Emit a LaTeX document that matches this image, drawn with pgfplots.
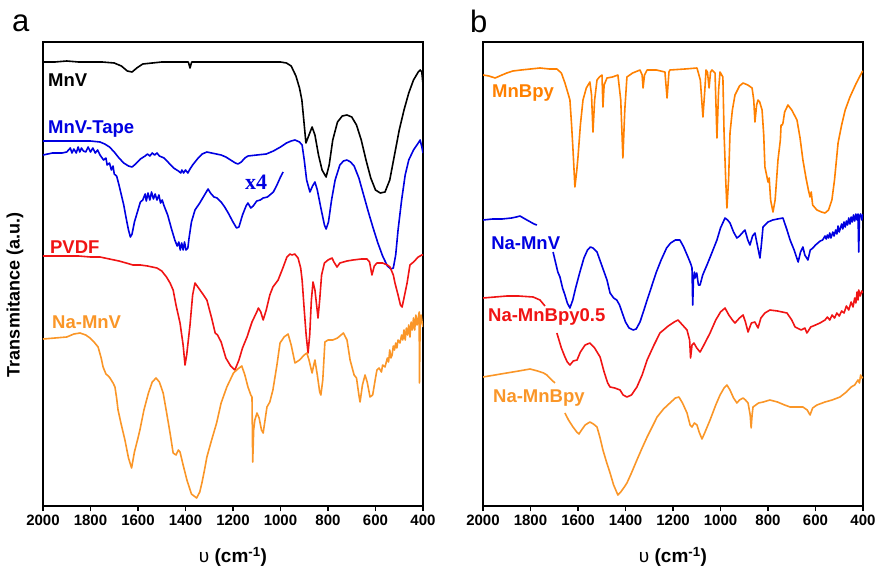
\documentclass[border=0pt]{standalone}
\usepackage{pgfplots}
\pgfplotsset{compat=1.18}
\usepackage{fontspec}
\setmainfont{Liberation Sans}
\newfontfamily\timesf{Liberation Serif}

\definecolor{cblue}{RGB}{0,0,225}
\definecolor{cred}{RGB}{240,20,20}
\definecolor{corange}{RGB}{250,150,40}
\definecolor{cdorange}{RGB}{255,128,0}

\pgfplotsset{
  ftir/.style={
    scale only axis,
    width=380pt, height=464pt,
    anchor=south west,
    x dir=reverse, xmin=400, xmax=2000,
    y dir=reverse, ymin=42, ymax=506,
    ytick=\empty,
    xtick={400,600,...,2000},
    xtick pos=bottom,
    tick align=outside,
    major tick length=5pt,
    axis line style={line width=1.4pt},
    tick style={black, line width=1.3pt},
    /pgf/number format/assume math mode=true,
    /pgf/number format/1000 sep={},
    xticklabel style={font=\fontsize{15}{15}\selectfont\bfseries},
    every axis plot/.append style={line width=1.6pt, mark=none, line join=round},
  },
}
\tikzset{lab/.style={font=\fontsize{18.5}{18.5}\selectfont\bfseries, anchor=west, inner sep=0pt}}

\begin{document}
\begin{tikzpicture}
\useasboundingbox (0pt,0pt) rectangle (880pt,570pt);

% ---------------- panel a ----------------
\begin{axis}[ftir, at={(43pt,64pt)}]
% MnV
\addplot[black] coordinates {
(2000,62)(1950,62)(1900,61)(1850,62)(1800,62)(1750,62)(1700,63)(1670,66)(1645,71)(1625,72)(1605,68)(1580,64)
(1540,63)(1500,62)(1450,62)(1400,62)(1388,62)(1381,68)(1374,62)(1350,62)(1300,62)(1250,62)(1200,62)(1150,62)
(1100,62)(1050,62)(1000,62)(975,63)(955,66)(935,76)(920,88)(910,100)(900,125)(893,143)(880,135)(867,127)
(855,135)(840,155)(825,170)(808,177)(795,165)(780,140)(760,122)(740,116)(720,115)(700,117)(680,125)(660,140)
(640,160)(620,178)(600,190)(580,193)(560,192)(540,180)(520,155)(500,130)(480,110)(460,93)(440,80)(420,72)
(412,70)(405,72)(401,82)
};
% MnV-Tape
\addplot[cblue] coordinates {
(2000,141)(1950,141)(1900,141)(1850,141)(1800,141)(1760,142)(1740,144)(1720,147)(1700,152)(1680,158)(1660,163)
(1640,166)(1625,167)(1610,164)(1590,159)(1570,156)(1560,154)(1550,156)(1540,153)(1530,155)(1520,153)(1510,156)
(1490,158)(1470,163)(1450,168)(1430,171)(1420,173)(1415,170)(1408,173)(1400,170)(1390,173)(1381,169)(1370,165)
(1350,159)(1330,154)(1310,152)(1290,153)(1270,154)(1250,155)(1230,157)(1210,160)(1190,163)(1179,164)(1165,162)
(1150,158)(1137,156)(1100,155)(1060,154)(1030,151)(1000,147)(975,143)(955,141)(939,140)(920,142)(909,145)
(900,160)(890,180)(876,192)(865,186)(855,182)(845,190)(830,208)(815,225)(808,229)(798,222)(785,200)(770,180)
(750,165)(735,161)(720,160)(705,162)(690,166)(670,178)(650,195)(630,212)(610,228)(590,243)(570,256)(550,266)
(535,269)(525,268)(515,255)(505,230)(490,200)(475,175)(460,160)(440,150)(420,143)(412,140)(404,148)(400,153)
};
% MnV-Tape x4
\addplot[cblue] coordinates {
(2000,155)(1980,154)(1960,153)(1940,153)(1920,153)(1900,152)(1885,148)(1878,153)(1870,149)(1860,153)(1852,147)
(1845,152)(1838,148)(1830,151)(1820,152)(1810,147)(1800,152)(1790,148)(1780,153)(1770,150)(1760,155)(1745,160)
(1735,158)(1730,165)(1720,163)(1712,170)(1705,166)(1700,174)(1690,176)(1680,185)(1670,195)(1660,205)(1650,218)
(1640,230)(1632,237)(1625,234)(1615,222)(1600,210)(1590,202)(1580,200)(1570,194)(1565,201)(1558,193)(1550,200)
(1543,192)(1535,199)(1528,194)(1520,200)(1512,195)(1505,203)(1498,200)(1490,206)(1475,215)(1460,228)(1445,240)
(1435,246)(1428,242)(1422,250)(1416,243)(1410,250)(1404,242)(1398,250)(1390,248)(1385,238)(1375,222)(1360,210)
(1340,203)(1320,195)(1305,189)(1295,193)(1280,197)(1267,198)(1250,202)(1235,207)(1220,213)(1200,222)(1185,228)
(1175,227)(1160,215)(1145,206)(1137,203)(1125,208)(1115,206)(1100,201)(1085,200)(1073,198)(1055,197)(1040,194)
(1030,192)(1015,185)(1000,177)(989,172)
};
% PVDF
\addplot[cred] coordinates {
(2000,256)(1950,256)(1900,256)(1850,256)(1800,257)(1760,257)(1720,259)(1680,261)(1650,263)(1621,265)(1590,265)
(1560,266)(1520,268)(1500,271)(1480,277)(1465,283)(1452,290)(1440,305)(1423,323)(1410,345)(1402,365)(1395,355)
(1388,340)(1381,325)(1370,295)(1360,283)(1345,288)(1330,293)(1310,300)(1290,318)(1275,333)(1265,335)(1250,342)
(1230,358)(1210,366)(1192,370)(1175,360)(1160,348)(1141,337)(1120,322)(1100,312)(1093,308)(1083,312)(1073,320)
(1060,310)(1045,295)(1032,287)(1010,280)(990,268)(973,257)(960,254)(952,255)(940,254)(926,258)(915,268)(909,280)
(900,310)(892,335)(884,353)(877,335)(870,300)(863,282)(855,290)(848,305)(842,318)(835,300)(827,275)(815,263)
(800,260)(783,258)(775,262)(762,267)(750,263)(720,261)(695,260)(660,259)(636,259)(625,262)(615,275)(605,266)
(594,263)(570,263)(550,265)(539,267)(525,275)(518,283)(505,295)(495,305)(488,307)(480,298)(467,283)(455,265)
(440,262)(420,257)(405,255)(400,255)
};
% Na-MnV
\addplot[corange] coordinates {
(2000,339)(1950,338)(1900,337)(1870,334)(1844,333)(1820,335)(1802,338)(1785,342)(1768,347)(1755,358)(1747,367)
(1735,374)(1725,376)(1718,378)(1705,383)(1697,387)(1690,398)(1684,410)(1670,425)(1655,440)(1640,458)(1627,468)
(1615,452)(1600,438)(1592,430)(1575,410)(1556,393)(1540,382)(1524,378)(1510,382)(1494,393)(1480,412)(1465,433)
(1452,453)(1440,455)(1430,450)(1423,452)(1410,465)(1394,480)(1375,494)(1353,498)(1340,492)(1331,483)(1320,470)
(1310,457)(1290,440)(1269,423)(1250,403)(1226,387)(1198,373)(1180,369)(1163,366)(1150,375)(1137,387)(1125,395)
(1120,397)(1117,462)(1113,430)(1108,420)(1099,413)(1090,418)(1080,430)(1073,433)(1065,420)(1057,407)(1045,402)
(1032,390)(1015,365)(1002,343)(985,337)(968,334)(955,345)(939,363)(920,360)(900,355)(889,353)(880,360)(867,373)
(860,365)(855,360)(845,375)(835,392)(830,395)(822,380)(813,342)(800,340)(780,340)(760,338)(735,333)(720,340)
(707,360)(690,375)(680,378)(670,395)(665,402)(655,385)(644,375)(635,382)(623,397)(612,395)(600,378)(594,370)
(585,368)(575,372)(570,365)(560,367)(550,358)(545,362)(540,350)(535,358)(530,355)(525,346)(520,350)(515,343)
(510,348)(505,340)(497,343)(490,335)(485,340)(480,330)(475,340)(470,328)(465,335)(460,325)(455,337)(450,322)
(445,330)(440,318)(435,330)(430,315)(425,325)(420,318)(416,312)(415,383)(412,325)(408,315)(404,322)(400,327)
};
\node[lab, black] at (axis cs:1979,80) {MnV};
\node[lab, cblue] at (axis cs:1979,129) {MnV-Tape};
\node[lab, cred] at (axis cs:1971,247) {PVDF};
\node[lab, corange] at (axis cs:1962,322) {Na-MnV};
\node[font=\fontsize{22}{22}\selectfont\timesf\bfseries, cblue, inner sep=0pt] at (axis cs:1103,182) {x4};
\end{axis}

% ---------------- panel b ----------------
\begin{axis}[ftir, at={(483pt,64pt)}]
% MnBpy
\addplot[cdorange] coordinates {
(2000,75)(1975,76)(1949,78)(1920,75)(1900,73)(1874,71)(1840,70)(1800,69)(1760,68)(1720,69)(1689,69)(1670,73)
(1655,83)(1640,95)(1634,100)(1627,125)(1621,150)(1613,187)(1605,170)(1600,157)(1590,125)(1579,100)(1565,88)
(1550,82)(1543,95)(1537,132)(1530,100)(1520,80)(1510,77)(1499,75)(1495,107)(1490,85)(1478,78)(1455,77)(1432,75)
(1420,100)(1411,158)(1403,110)(1394,77)(1370,73)(1339,70)(1330,75)(1326,88)(1320,75)(1309,70)(1270,70)(1234,72)
(1225,98)(1217,72)(1213,70)(1150,69)(1099,68)(1085,80)(1074,117)(1066,90)(1061,70)(1055,72)(1048,88)(1042,72)
(1036,70)(1023,73)(1015,138)(1008,90)(1002,72)(990,77)(985,133)(978,180)(973,208)(966,180)(960,133)(950,110)
(939,95)(920,86)(905,83)(885,85)(867,88)(860,100)(855,122)(848,105)(842,100)(835,102)(825,110)(818,135)(813,167)
(806,175)(800,182)(795,178)(789,200)(779,212)(770,200)(758,160)(748,140)(745,125)(740,125)(737,123)(730,112)
(716,105)(700,110)(678,120)(665,138)(653,160)(640,178)(630,190)(623,197)(618,192)(612,205)(594,210)(575,212)
(560,213)(545,210)(531,200)(520,180)(505,143)(490,125)(475,110)(455,97)(430,84)(404,72)(400,71)
};
% Na-MnV
\addplot[cblue] coordinates {
(2000,220)(1960,219)(1920,219)(1880,218)(1860,217)(1844,216)(1830,218)(1815,220)(1800,222)(1785,224)(1773,225)
};
\addplot[cblue] coordinates {
(1705,252)(1695,262)(1685,272)(1676,277)(1665,288)(1655,295)(1645,303)(1634,308)(1622,300)(1610,288)(1592,272)
(1575,258)(1560,250)(1548,247)(1537,248)(1520,252)(1505,262)(1490,272)(1478,280)(1465,293)(1450,298)(1437,300)
(1425,305)(1415,312)(1400,322)(1385,328)(1368,330)(1355,329)(1339,322)(1325,312)(1309,300)(1295,290)(1284,282)
(1270,272)(1250,260)(1227,248)(1210,243)(1190,240)(1171,240)(1155,247)(1137,257)(1125,264)(1120,268)(1117,305)
(1114,280)(1110,272)(1107,278)(1100,273)(1093,285)(1086,285)(1075,275)(1057,265)(1040,255)(1015,240)(1000,228)
(981,218)(970,220)(960,223)(945,232)(931,238)(920,236)(905,232)(897,230)(885,240)(876,245)(865,236)(855,233)
(845,245)(834,258)(828,245)(821,227)(800,222)(780,220)(760,219)(737,218)(720,230)(707,240)(690,250)(673,262)
(663,252)(653,247)(645,255)(632,260)(622,250)(611,248)(600,245)(590,243)(580,241)(570,240)(560,236)(555,239)
(550,235)(545,238)(540,233)(535,238)(527,232)(522,236)(515,230)(510,234)(505,226)(500,232)(495,228)(490,224)
(485,229)(480,222)(475,227)(470,221)(465,225)(460,218)(455,224)(450,217)(445,222)(440,215)(435,221)(430,214)
(425,220)(421,214)(418,252)(415,216)(410,214)(405,220)(400,214)
};
% Na-MnBpy0.5
\addplot[cred] coordinates {
(2000,298)(1950,297)(1899,296)(1850,296)(1789,297)(1760,300)(1739,306)
};
\addplot[cred] coordinates {
(1689,333)(1670,348)(1655,357)(1645,362)(1634,365)(1620,361)(1604,360)(1590,352)(1570,345)(1550,343)(1530,348)
(1507,357)(1490,372)(1475,383)(1465,387)(1445,388)(1423,390)(1410,395)(1394,397)(1375,395)(1352,387)(1330,375)
(1309,360)(1280,345)(1255,333)(1220,326)(1195,322)(1179,320)(1160,325)(1141,330)(1130,340)(1126,358)(1120,345)
(1112,343)(1100,348)(1086,352)(1070,345)(1044,333)(1020,320)(1000,312)(981,308)(965,315)(950,320)(939,323)
(920,318)(905,315)(895,322)(884,332)(870,323)(855,322)(842,328)(830,318)(813,313)(792,310)(760,311)(720,313)
(700,320)(686,327)(660,330)(645,328)(636,333)(620,327)(600,325)(581,323)(560,320)(550,317)(540,320)(530,315)
(520,318)(510,313)(500,316)(490,311)(480,313)(470,306)(460,310)(450,302)(442,307)(435,298)(430,303)(425,292)
(421,300)(418,290)(412,296)(405,291)(400,293)
};
% Na-MnBpy
\addplot[corange] coordinates {
(2000,377)(1950,375)(1900,373)(1850,371)(1802,369)(1770,371)(1745,373)(1731,375)(1715,379)(1697,383)
};
\addplot[corange] coordinates {
(1655,413)(1640,420)(1621,427)(1605,432)(1596,434)(1585,430)(1570,425)(1550,422)(1535,424)(1520,427)(1508,437)
(1495,450)(1480,462)(1465,473)(1450,485)(1432,495)(1420,492)(1405,487)(1394,483)(1375,473)(1352,460)(1330,448)
(1309,437)(1290,428)(1267,417)(1240,409)(1213,403)(1190,398)(1175,397)(1160,403)(1141,413)(1128,425)(1120,427)
(1110,423)(1099,425)(1090,432)(1078,439)(1065,432)(1044,420)(1020,405)(1002,395)(985,388)(973,385)(960,390)
(945,398)(931,403)(920,400)(905,398)(895,400)(884,403)(875,415)(871,428)(867,415)(863,407)(840,403)(820,402)
(792,400)(760,402)(730,405)(707,407)(680,407)(653,407)(635,410)(623,415)(612,408)(594,405)(560,402)(530,400)
(497,397)(470,392)(450,387)(435,385)(421,380)(415,383)(410,375)(405,378)(400,377)
};
\node[lab, cdorange] at (axis cs:1962,93) {MnBpy};
\node[lab, cblue] at (axis cs:1966,243) {Na-MnV};
\node[lab, cred] at (axis cs:1979,317) {Na-MnBpy0.5};
\node[lab, corange] at (axis cs:1958,398) {Na-MnBpy};
\end{axis}

% panel letters and axis titles
\node[anchor=base west, inner sep=0pt, font=\fontsize{31}{31}\selectfont] at (12pt,538pt) {a};
\node[anchor=base west, inner sep=0pt, font=\fontsize{31}{31}\selectfont] at (470pt,537pt) {b};
\node[rotate=90, inner sep=0pt, font=\fontsize{18}{18}\selectfont\bfseries] at (15pt,275pt) {Transmitance (a.u.)};
\node[inner sep=0pt, font=\fontsize{19}{19}\selectfont\bfseries] at (233pt,13pt) {{\mdseries υ} (cm\textsuperscript{-1})};
\node[inner sep=0pt, font=\fontsize{19}{19}\selectfont\bfseries] at (673pt,13pt) {{\mdseries υ} (cm\textsuperscript{-1})};
\end{tikzpicture}
\end{document}
